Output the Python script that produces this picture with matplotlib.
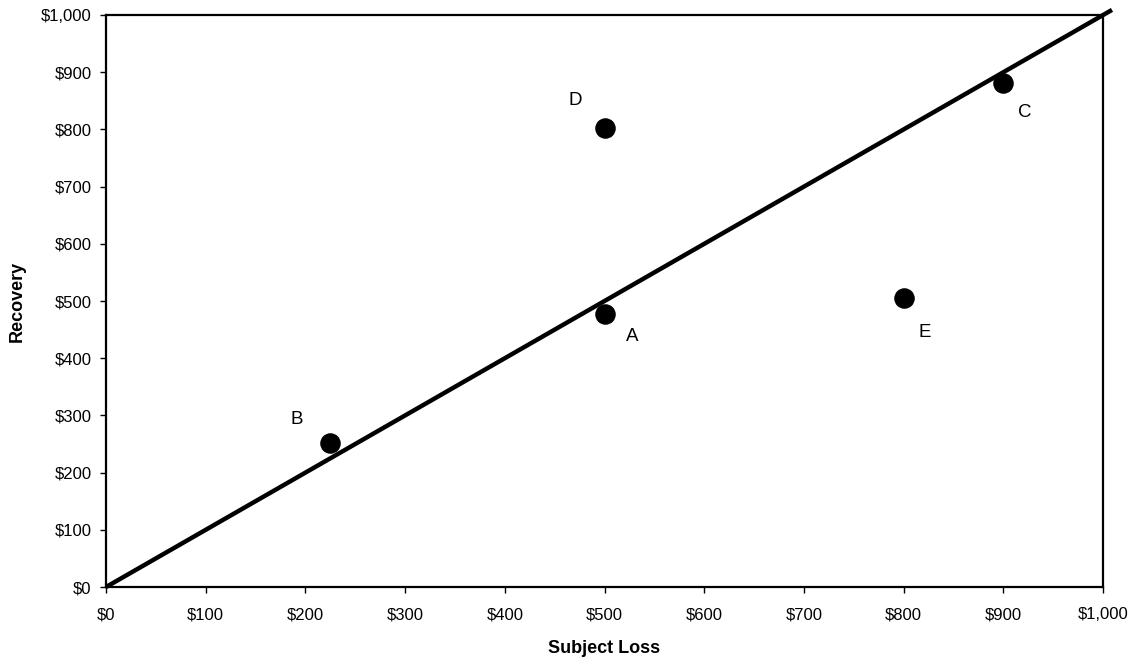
import matplotlib.pyplot as plt
from matplotlib.ticker import FuncFormatter

plt.rcParams['font.family'] = ['Liberation Sans', 'DejaVu Sans']

# data
names = ['A', 'B', 'C', 'D', 'E']
subject_loss = [500, 225, 900, 500, 800]
recovery = [477, 252, 881, 802, 505]
# label offsets in pixels from each dot
label_dx = [28, -34, 21, -29, 21]
label_dy = [-22, 23, -29, 28, -34]

line_x = [0, 1009]
line_y = [0, 1009]

ticks = list(range(0, 1001, 100))

fig = plt.figure(figsize=(11.41, 6.63), dpi=100)
ax = fig.add_axes([0.0929, 0.1146, 0.8738, 0.8627])

ax.plot(line_x, line_y, color='black', lw=3.2, clip_on=False, zorder=3, solid_capstyle='butt')
ax.scatter(subject_loss, recovery, s=190, color='black', zorder=4)
for n, x, y, dx, dy in zip(names, subject_loss, recovery, label_dx, label_dy):
    ax.annotate(n, (x, y), xytext=(dx, dy), textcoords='offset pixels',
                ha='center', va='center', fontsize=13.5)

ax.set_xlim(0, 1000)
ax.set_ylim(0, 1000)
ax.set_xticks(ticks)
ax.set_yticks(ticks)
fmt = FuncFormatter(lambda v, p: '${:,.0f}'.format(v))
ax.xaxis.set_major_formatter(fmt)
ax.yaxis.set_major_formatter(fmt)
ax.tick_params(direction='out', length=4.5, width=1, labelsize=12)
ax.tick_params(axis='x', pad=10)
ax.tick_params(axis='y', pad=6)
for s in ax.spines.values():
    s.set_linewidth(1.6)

ax.set_xlabel('Subject Loss', fontsize=13, fontweight='bold', labelpad=13)
ax.set_ylabel('Recovery', fontsize=13, fontweight='bold', labelpad=11)

fig.savefig('out.png', dpi=100)
